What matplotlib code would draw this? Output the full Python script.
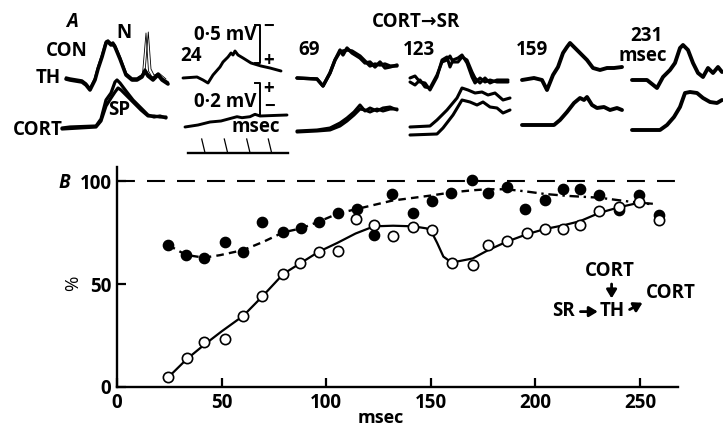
import numpy as np
import matplotlib
matplotlib.use("Agg")
import matplotlib.pyplot as plt

plt.rcParams['font.family'] = ['Open Sans', 'DejaVu Sans']
plt.rcParams['font.weight'] = 'bold'
FS = 13.5

# ---------------- B: % of control response vs conditioning interval
t_open = [24.5, 33.3, 41.7, 51.6, 60.4, 69.5, 79.5, 87.5, 96.5, 105.4, 114.1, 122.8, 132.1, 141.6,
          150.4, 160, 170, 177.5, 186.2, 196.1, 204.6, 213.4, 221.3, 230.5, 240.1, 249.7, 259.2]
pct_open = [4.7, 13.9, 21.7, 23.3, 34.6, 44, 54.9, 60, 65.7, 66, 81.4, 78.6, 73.4, 77.8,
            76.2, 60.4, 59.2, 68.9, 71, 74.9, 76.7, 76.7, 78.6, 85.5, 87.5, 89.9, 81]
t_fill = [24.5, 33, 41.6, 51.6, 60.4, 69.5, 79.5, 88, 96.4, 105.8, 114.6, 122.8, 131.6, 141.6,
          150.4, 159.7, 169.5, 177.1, 186.2, 195, 204.6, 213.4, 221.3, 230.5, 240.1, 249.7, 259.2]
pct_fill = [68.9, 64.3, 62.8, 70.5, 65.7, 80.2, 75.1, 77, 80.2, 84.3, 86.4, 73.8, 93.7, 84.6,
            90.4, 94, 100.5, 94, 97.2, 86.2, 91, 95.9, 95.9, 93.2, 85.9, 93.2, 83.5]

# hand-fitted curves
fit_open_t = [24.5, 33.3, 41.7, 50, 60.4, 69.5, 79.5, 87.5, 96.5, 105.4, 114, 122.8, 132, 141.6,
              148, 151, 153, 156, 160, 170, 177.5, 186.2, 196, 204.6, 213.4, 221.3, 230.5,
              240.1, 249.7, 255.6]
fit_open_y = [4.7, 13.5, 20.5, 27, 34.6, 44, 54.9, 60, 65.7, 70, 74.5, 78, 78.3, 78,
              77, 74, 70, 63.3, 60.4, 62.4, 66.5, 70.5, 74.2, 76.7, 78.5, 80.5, 84.5,
              87.3, 89.5, 89]
fit_fill_t = [24.5, 33, 41.6, 49.2, 60.4, 70, 79.5, 88, 96.3, 105.8, 114.6, 131.6, 150.4,
              160, 170, 177, 186]
fit_fill_y = [68.9, 64.1, 62.8, 64, 66.5, 70.5, 75.1, 77, 80.2, 84.3, 86.4, 90.5, 93,
              94.5, 95.5, 96, 96]
fit_tail_t = [186, 195, 204.6, 215, 230.5, 245, 255.6]
fit_tail_y = [96, 95, 93.7, 92.8, 91.9, 90, 88.7]

xticks = [0, 50, 100, 150, 200, 250]
yticks = [0, 50, 100]

# ---------------- A: averaged field potentials (sweep offset, height above baseline)
th_con = [(0, 0), (4, -1), (16, -3), (20, -6), (24, -11), (29, -1), (32, 10), (36, 22), (40, 36),
          (42, 37), (45, 34), (47, 35), (49, 32), (54, 20), (60, 4), (66, -1), (71, -1), (76, 2),
          (79, 8), (82, 3), (87, -1), (92, 4), (96, -1), (102, -5)]
th_con_spike1 = [(70, 0), (76.5, 5), (80, 46), (82.5, 8), (86, 2), (90, 4), (96, 0)]
th_con_spike2 = [(74, 0), (79, 7), (82.3, 47), (85, 10), (88, 4), (93, 6), (100, 0)]
cort_con_a = [(-4, 0), (4, 1), (30, 2), (35, 9), (40, 28), (45, 35), (49, 46), (51, 48), (54, 45),
              (60, 37), (67, 28), (75, 20), (82, 13), (88, 11), (94, 12), (100, 10)]
cort_con_b = [(-4, -1), (30, 1), (35, 7), (40, 22), (45, 30), (49, 36), (52, 40), (55, 38),
              (60, 33), (67, 26), (75, 18), (82, 12), (88, 12), (94, 11), (100, 11)]

th_24 = [(0, 0), (14, 1), (20, -2), (25, -5), (30, 3), (37, 11), (40, 16), (45, 21), (48, 25),
         (50, 23), (52, 27), (55, 23), (60, 20), (68, 15), (78, 12), (87, 10), (98, 7)]
cort_24 = [(2, 0), (15, 2), (27, 5), (38, 6), (48, 8.7), (54, 10.3), (59, 9.3), (67, 10.3),
           (72, 12.7), (77, 11), (90, 11.5), (104, 12)]

th_69_a = [(0, 0), (20, -1), (26, -8), (33, 5), (38, 18), (43, 28), (46, 23), (50, 30), (55, 25),
           (63, 20), (68, 15), (73, 16), (78, 11), (83, 16), (88, 10), (93, 11), (100, 13)]
th_69_b = [(0, 0), (20, -1), (26, -8), (33, 5), (38, 18), (43, 26), (46, 27), (50, 28), (55, 27),
           (63, 22), (68, 17), (73, 12), (78, 14), (83, 13), (88, 14), (93, 12), (100, 12)]
cort_69_a = [(0, 0), (20, 1), (33, 3), (43, 8), (50, 13), (57, 19), (63, 26), (68, 20), (73, 23),
             (80, 20), (86, 23), (93, 24), (100, 21)]
cort_69_b = [(0, -1), (20, 0), (33, 1), (43, 5), (50, 10), (57, 16), (63, 22), (68, 21), (73, 19),
             (80, 22), (86, 20), (93, 22), (100, 22)]

th_123_a = [(0, 2), (5, 4), (10, -2), (15, -3), (20, -10), (27, 3), (32, 20), (37, 23), (40, 13),
            (43, 20), (48, 22), (52, 25), (57, 17), (62, 3), (65, -3), (70, 2), (75, -2), (80, 0),
            (87, -2), (98, -2)]
th_123_b = [(0, -2), (5, -5), (10, 0), (15, -7), (20, -8), (27, 5), (32, 18), (37, 20), (40, 24),
            (43, 18), (48, 18), (52, 23), (57, 20), (62, 8), (65, 2), (70, -3), (75, 2), (80, -3),
            (87, 0), (98, 0)]
cort_123_a = [(0, 0), (20, 1), (27, 7), (37, 17), (47, 29), (52, 39), (58, 37), (65, 34), (72, 35),
              (78, 32), (85, 34), (93, 27), (100, 29)]
cort_123_b = [(0, -8), (27, -7), (33, -1), (43, 12), (52, 27), (60, 25), (67, 22), (73, 25),
              (80, 20), (87, 19), (93, 14), (100, 17)]

th_159 = [(0, 0), (12, 2), (20, 0), (25, -10), (31, 5), (36, 13), (41, 27), (45, 33), (48, 37),
          (53, 32), (58, 27), (65, 20), (71, 12), (78, 10), (85, 12), (92, 12), (100, 13)]
cort_159 = [(0, 0), (32, 0), (38, 5), (45, 13), (52, 22), (58, 27), (62, 25), (65, 28), (70, 20),
            (75, 17), (82, 18), (88, 15), (95, 17), (100, 15)]

th_231 = [(0, 0), (15, 0), (25, -8), (31, 3), (38, 10), (43, 17), (48, 32), (51, 35), (56, 30),
          (61, 17), (66, 7), (71, 3), (76, 12), (81, 7), (86, 13), (90, 8)]
cort_231 = [(0, 0), (28, 0), (35, 5), (42, 13), (48, 23), (53, 37), (58, 38), (65, 37), (71, 32),
            (78, 28), (85, 27), (90, 30)]

fig = plt.figure(figsize=(7.23, 4.28), dpi=100)

# ---- panel B axes
axB = fig.add_axes([117 / 723, 41 / 428, 560.7 / 723, 220.4 / 428])
axB.plot(fit_open_t, fit_open_y, color='black', lw=1.6, zorder=2)
axB.plot(fit_fill_t, fit_fill_y, color='black', lw=1.7, dashes=(3.2, 2.2), zorder=2)
axB.plot(fit_tail_t, fit_tail_y, color='black', lw=1.7, dashes=(4, 2, 1, 2), zorder=2)
axB.plot([0, 268], [100, 100], color='black', lw=1.5, dashes=(8.6, 5.8), dash_capstyle='butt')
axB.plot(t_fill, pct_fill, 'o', color='black', ms=7.4, zorder=3, ls='none')
axB.plot(t_open, pct_open, 'o', mfc='white', mec='black', mew=1.2, ms=7.4, zorder=4, ls='none')
axB.set_xlim(0, 268)
axB.set_ylim(0, 107)
axB.set_xticks(xticks)
axB.set_yticks(yticks)
for s in ['top', 'right']:
    axB.spines[s].set_visible(False)
for s in ['left', 'bottom']:
    axB.spines[s].set_linewidth(1.7)
axB.tick_params(direction='in', length=6.5, width=1.6, labelsize=FS, pad=4)
axB.text(0.47, -0.141, 'msec', fontsize=FS - 0.5, ha='center', va='center',
         transform=axB.transAxes)
axB.set_ylabel('%', fontsize=FS, rotation=90)
axB.yaxis.set_label_coords(-0.062, 0.47)
axB.patch.set_alpha(0)

# diagram of the pathway
axB.text(235.7, 56.3, 'CORT', fontsize=FS, ha='center', va='center')
axB.text(213.2, 36.9, 'SR', fontsize=FS, ha='center', va='center')
axB.text(236.6, 36.9, 'TH', fontsize=FS, ha='center', va='center')
axB.text(264.8, 45.6, 'CORT', fontsize=FS, ha='center', va='center')
arrow = dict(arrowstyle='-|>,head_length=0.5,head_width=0.3', color='black', lw=2.0,
             shrinkA=0, shrinkB=0)
axB.annotate('', xy=(236.4, 43.0), xytext=(236.4, 50.0), arrowprops=arrow)
axB.annotate('', xy=(229.8, 36.6), xytext=(221.5, 36.6), arrowprops=arrow)
axB.annotate('', xy=(251.2, 40.9), xytext=(245.0, 37.6), arrowprops=arrow)

# ---- panel A, drawn on an overlay in figure pixel units
axA = fig.add_axes([0, 0, 1, 1])
axA.set_xlim(0, 723)
axA.set_ylim(428, 0)
axA.axis('off')
axA.patch.set_alpha(0)


def trace(tr, x0, y0, lw=2.0):
    t = np.array([p[0] for p in tr], dtype=float)
    v = np.array([p[1] for p in tr], dtype=float)
    axA.plot(x0 + t, y0 - v, color='black', lw=lw, solid_joinstyle='round',
             solid_capstyle='round')


# column origins (sweep start) and baselines of the TH and CORT rows
trace(th_con, 66, 79, 2.6)
trace([(t, v + 1.5) for t, v in th_con], 66, 79, 1.8)
trace(th_con_spike1, 66, 79, 0.6)
trace(th_con_spike2, 66, 79, 0.6)
trace(cort_con_a, 66, 128, 2.3)
trace(cort_con_b, 66, 128, 2.3)

trace(th_24, 183, 78, 2.1)
trace(cort_24, 183, 127, 2.1)

trace(th_69_a, 297, 78, 2.4)
trace(th_69_b, 297, 78, 2.4)
trace(cort_69_a, 297, 131, 2.2)
trace(cort_69_b, 297, 131, 2.2)

trace(th_123_a, 410, 80, 2.2)
trace(th_123_b, 410, 80, 2.2)
trace(cort_123_a, 410, 127, 2.2)
trace(cort_123_b, 410, 127, 2.2)

trace(th_159, 522, 80, 2.8)
trace(cort_159, 522, 125, 2.8)

trace(th_231, 632, 80, 2.8)
trace(cort_231, 632, 130, 2.8)

# calibration brackets and time scale
axA.plot([255, 259.5, 259.5, 255], [25, 25, 63, 63], color='black', lw=1.4)
axA.plot([255, 260, 260, 255], [83, 83, 115, 115], color='black', lw=1.4)
axA.plot([188, 288], [152.5, 152.5], color='black', lw=1.7)
for xt in [201.7, 224.3, 246.7, 268.3]:
    axA.plot([xt, xt + 3], [139, 151.5], color='black', lw=0.9)

kw = dict(fontsize=FS, ha='center', va='center')
axA.text(72, 22, 'A', fontsize=FS, style='italic', ha='center', va='center')
axA.text(64, 183, 'B', fontsize=FS, style='italic', ha='center', va='center')
axA.text(124, 33, 'N', **kw)
axA.text(67, 51, 'CON', **kw)
axA.text(48, 78, 'TH', **kw)
axA.text(119, 110, 'SP', **kw)
axA.text(38, 130, 'CORT', **kw)
axA.text(191, 56, '24', **kw)
axA.text(225, 35, '0·5 mV', **kw)
axA.text(269, 27, '−', **kw)
axA.text(269, 61, '+', **kw)
axA.text(225, 102, '0·2 mV', **kw)
axA.text(269, 89, '+', **kw)
axA.text(270, 107, '−', **kw)
axA.text(256, 127, 'msec', **kw)
axA.text(416, 22, 'CORT→SR', **kw)
axA.text(309, 50, '69', **kw)
axA.text(419, 50, '123', **kw)
axA.text(532, 50, '159', **kw)
axA.text(646, 36, '231', **kw)
axA.text(643, 56, 'msec', **kw)

fig.savefig('out.png', dpi=100)
